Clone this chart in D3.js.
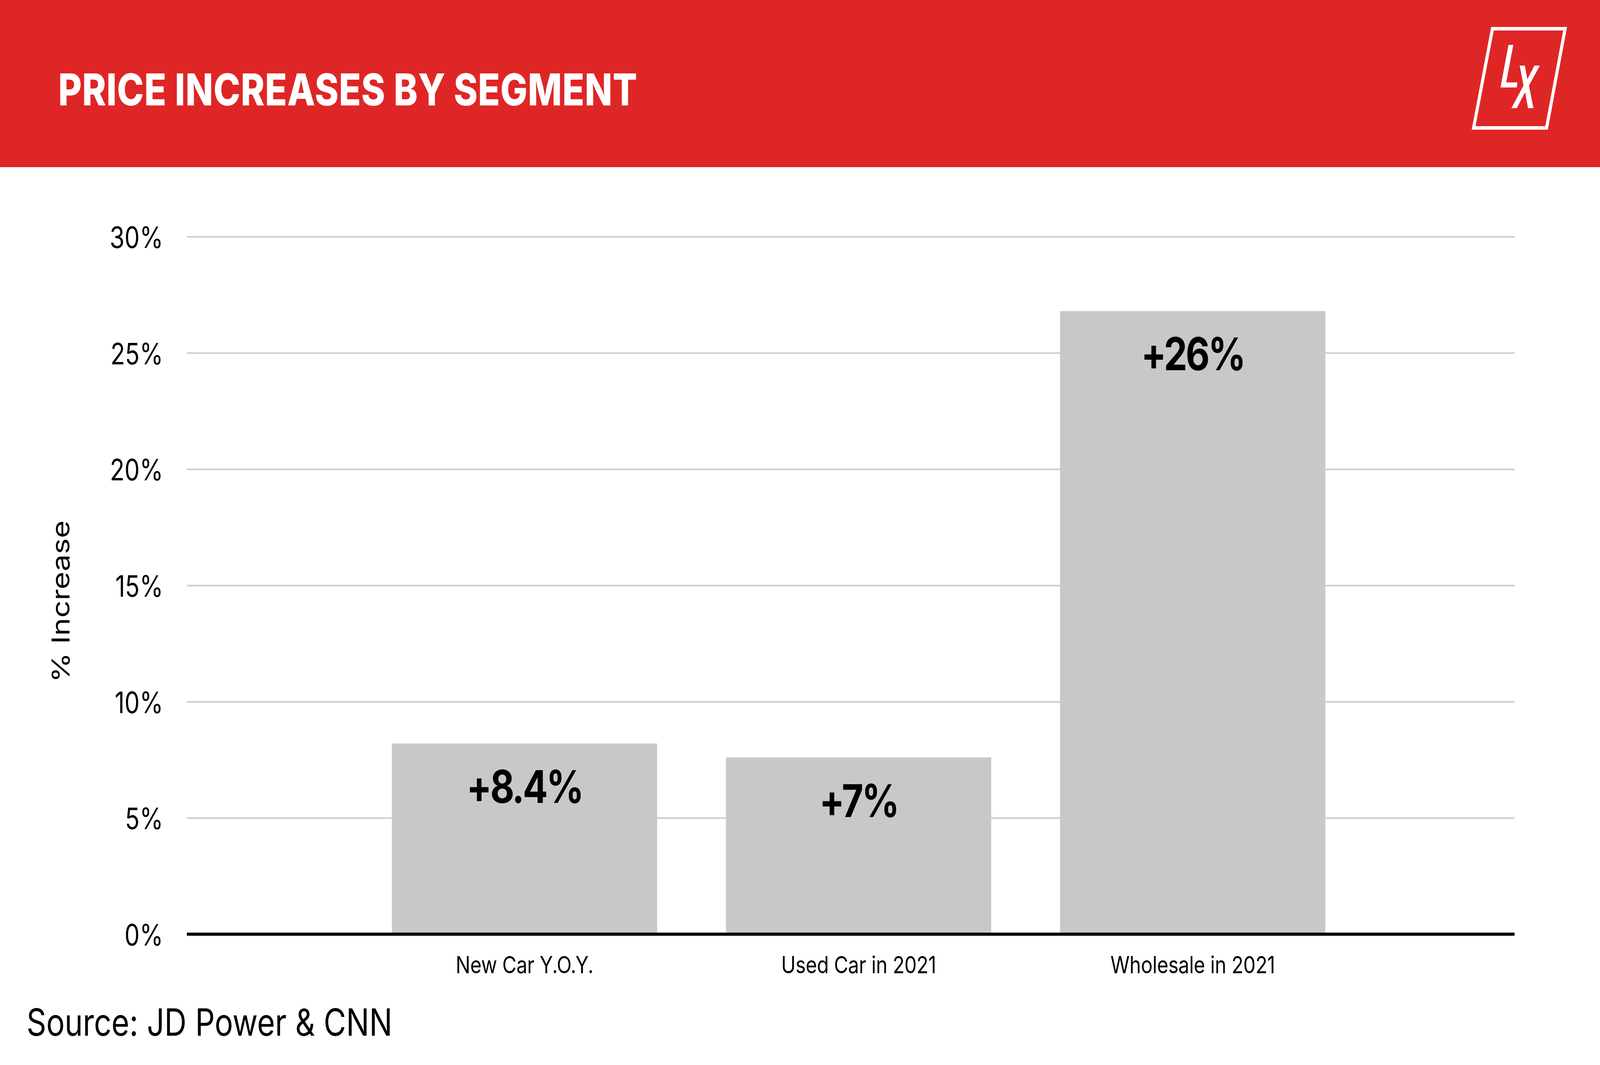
<!DOCTYPE html>
<html>
<head>
<meta charset="utf-8">
<script src="https://cdn.jsdelivr.net/npm/d3@7"></script>
<style>
  html, body { margin: 0; padding: 0; background: #ffffff; overflow: hidden; }
  svg { display: block; font-family: Inter, "Open Sans", sans-serif; }
</style>
</head>
<body>
<div id="chart"></div>
<script>
const categories = ['New Car Y.O.Y.', 'Used Car in 2021', 'Wholesale in 2021'];
const values = [8.2, 7.6, 26.8];
const valueLabels = ['+8.4%', '+7%', '+26%'];
const yTicks = [0, 5, 10, 15, 20, 25, 30];

// drawing is laid out on the 5000x2727 artboard and stretched to the window
const width = 5000;
const height = 2727;
const margin = { top: 606, right: 267, bottom: 335, left: 584 };

const svg = d3
    .select('#chart')
    .append('svg')
    .attr('width', window.innerWidth)
    .attr('height', window.innerHeight)
    .attr('viewBox', `0 0 ${width} ${height}`)
    .attr('preserveAspectRatio', 'none');

svg.append('rect').attr('width', width).attr('height', height).attr('fill', '#ffffff');

// header band
svg.append('rect').attr('x', 0).attr('y', 0).attr('width', width).attr('height', 428).attr('fill', '#df2626');

svg.append('text')
    .attr('x', 182)
    .attr('y', 270)
    .style('font-size', '113px')
    .style('font-weight', 800)
    .style('letter-spacing', '1px')
    .style('fill', '#ffffff')
    .text('PRICE INCREASES BY SEGMENT');

// LX logo
const logo = svg.append('g').attr('fill', '#ffffff');
logo.append('path')
    .attr('fill-rule', 'evenodd')
    .attr('d', 'M4660,69 L4897,69 L4837,332 L4599,332 Z M4668,78 L4611,323 L4829,323 L4885,78 Z');
logo.append('path')
    .attr('d', 'M4714,115 L4729,115 L4707,211 L4742,211 L4740,224 L4689,224 Z');
logo.append('path')
    .attr('d', 'M4749,168 L4765,168 L4773,203 L4795,168 L4812,168 L4778,219 L4792,277 L4775,277 L4766,236 L4740,277 L4723,277 L4761,219 Z');

const x = d3
    .scaleBand()
    .domain(categories)
    .range([margin.left, width - margin.right])
    .paddingInner(0.206)
    .paddingOuter(0.59)
    .align(0.52);

const y = d3
    .scaleLinear()
    .domain([0, 30])
    .range([height - margin.bottom, margin.top]);

// y axis with gridlines
const yAxis = svg
    .append('g')
    .attr('transform', `translate(${margin.left},0)`)
    .call(
        d3.axisLeft(y)
            .tickValues(yTicks)
            .tickFormat((d) => d + '%')
            .tickSize(-(width - margin.right - margin.left))
            .tickPadding(74)
    );
yAxis.select('.domain').remove();
yAxis.selectAll('.tick line').attr('stroke', '#cccccc').attr('stroke-width', 4);
yAxis.selectAll('.tick text')
    .attr('dy', '0.38em')
    .style('font-family', 'Inter, sans-serif')
    .style('font-size', '75px')
    .style('fill', '#000000');

// bars
svg.append('g')
    .selectAll('rect')
    .data(values)
    .enter()
    .append('rect')
    .attr('x', (d, i) => x(categories[i]))
    .attr('y', (d) => y(d))
    .attr('width', x.bandwidth())
    .attr('height', (d) => y(0) - y(d) + 4)
    .attr('fill', '#c8c8c8');

// value labels
svg.append('g')
    .selectAll('text')
    .data(values)
    .enter()
    .append('text')
    .attr('x', (d, i) => x(categories[i]) + x.bandwidth() / 2)
    .attr('y', (d) => y(d) + 152)
    .attr('text-anchor', 'middle')
    .style('font-size', '116px')
    .style('font-weight', 700)
    .style('letter-spacing', '-5px')
    .style('fill', '#000000')
    .text((d, i) => valueLabels[i]);

// baseline
svg.append('line')
    .attr('x1', margin.left)
    .attr('x2', width - margin.right)
    .attr('y1', y(0))
    .attr('y2', y(0))
    .attr('stroke', '#000000')
    .attr('stroke-width', 8);

// x axis labels
const xAxis = svg
    .append('g')
    .attr('transform', `translate(0,${y(0)})`)
    .call(d3.axisBottom(x).tickSize(0).tickPadding(57));
xAxis.select('.domain').remove();
xAxis.selectAll('.tick text')
    .style('font-family', 'Inter, sans-serif')
    .style('font-size', '61px')
    .style('letter-spacing', '-0.5px')
    .style('fill', '#000000');

// y axis title
svg.append('text')
    .attr('transform', 'translate(217,1540) rotate(-90)')
    .attr('text-anchor', 'middle')
    .style('font-size', '78px')
    .style('fill', '#000000')
    .text('% Increase');

// source
svg.append('text')
    .attr('x', 83)
    .attr('y', 2652)
    .style('font-size', '96px')
    .style('fill', '#000000')
    .text('Source: JD Power & CNN');
</script>
</body>
</html>
